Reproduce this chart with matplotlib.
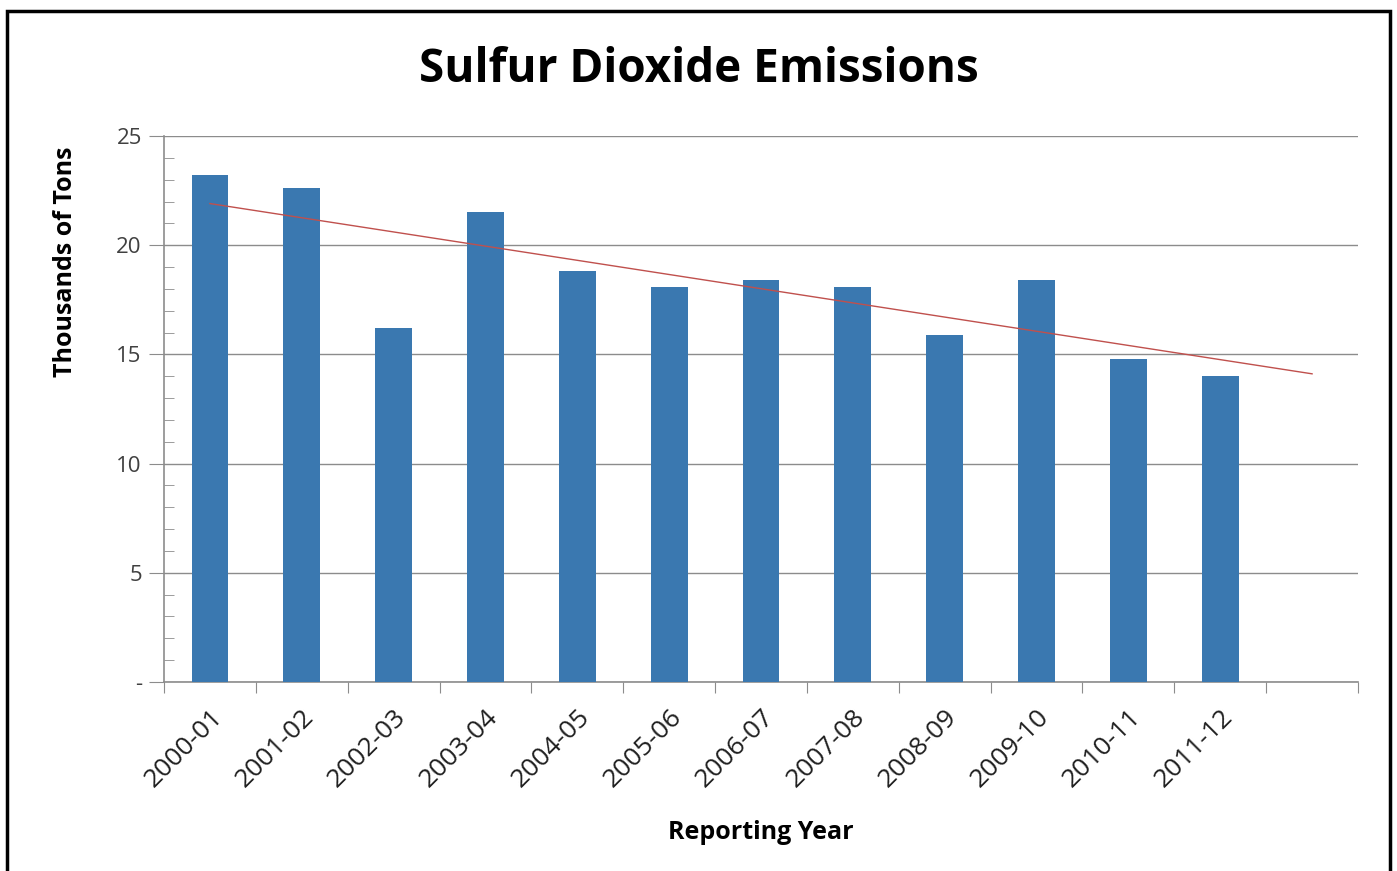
import numpy as np
import matplotlib.pyplot as plt
from matplotlib.patches import Rectangle

plt.rcParams['font.family'] = ['Open Sans', 'DejaVu Sans']

# reporting years and SO2 emissions (thousands of tons)
years = ['2000-01', '2001-02', '2002-03', '2003-04', '2004-05', '2005-06',
         '2006-07', '2007-08', '2008-09', '2009-10', '2010-11', '2011-12']
emissions = [23.2, 22.6, 16.2, 21.5, 18.8, 18.1, 18.4, 18.1, 15.9, 18.4, 14.8, 14.0]

bar_color = '#3a78b0'
grid_color = '#8c8c8c'

fig = plt.figure(figsize=(13.97, 8.71), dpi=100)
ax = fig.add_axes([164/1397, 1 - 682/871, (1358-164)/1397, (682-136)/871])

x = np.arange(len(years))
ax.bar(x, emissions, width=0.4, color=bar_color, zorder=3)

# linear trend, extended one period forward
coef = np.polyfit(x, emissions, 1)
xt = np.array([0, len(years)])
ax.plot(xt, np.polyval(coef, xt), color='#c0504d', lw=1.0, zorder=4)

ax.set_xlim(-0.5, len(years) + 0.5)
ax.set_ylim(0, 25)

ax.set_yticks([0, 5, 10, 15, 20, 25])
ax.set_yticklabels(['-', '5', '10', '15', '20', '25'])
ax.set_yticks(np.arange(0, 26, 1), minor=True)
ax.yaxis.grid(True, color=grid_color, lw=1.0, zorder=0)
ax.tick_params(axis='y', which='major', length=11, color=grid_color,
               labelsize=16, pad=5, labelcolor='#404040')
ax.tick_params(axis='y', which='minor', direction='in', length=7, color=grid_color)

# category ticks sit on slot boundaries, labels at bar centers
ax.set_xticks(np.arange(-0.5, len(years) + 1, 1))
ax.set_xticklabels([])
ax.set_xticks(x, minor=True)
ax.set_xticklabels(years, minor=True, rotation=45, ha='right',
                   rotation_mode='anchor', fontsize=19, color='#202020')
ax.tick_params(axis='x', which='major', length=8, color=grid_color)
ax.tick_params(axis='x', which='minor', length=0, pad=16)

for s in ['top', 'right']:
    ax.spines[s].set_visible(False)
for s in ['left', 'bottom']:
    ax.spines[s].set_color(grid_color)
    ax.spines[s].set_linewidth(1.2)

ax.set_xlabel('Reporting Year', fontsize=18, fontweight='bold', labelpad=20)
fig.text(66/1397, 1 - 262/871, 'Thousands of Tons', rotation=90,
         ha='center', va='center', fontsize=18, fontweight='bold')
fig.text(0.5, 1 - 70/871, 'Sulfur Dioxide Emissions', ha='center', va='center',
         fontsize=33, fontweight='bold')

# outer frame around the chart area
fig.patches.append(Rectangle((7/1397, -0.05), (1390-7)/1397, 1.05 - 11/871,
                             transform=fig.transFigure, fill=False,
                             edgecolor='black', lw=2.5))

fig.savefig('out.png', dpi=100)
